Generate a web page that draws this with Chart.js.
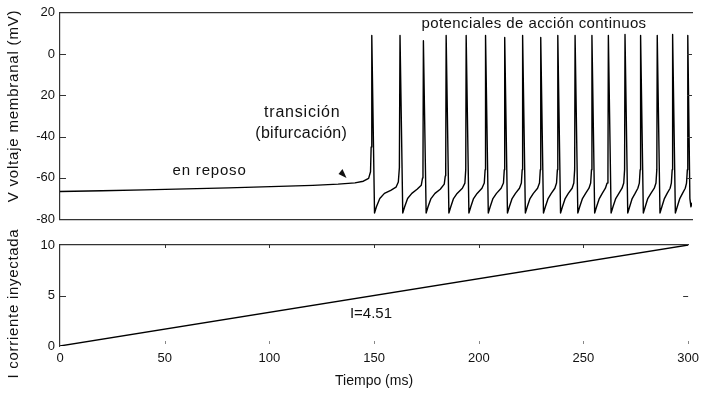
<!DOCTYPE html>
<html>
<head>
<meta charset="utf-8">
<script src="https://cdn.jsdelivr.net/npm/chart.js@4.4.1/dist/chart.umd.min.js"></script>
<style>
    html, body { margin: 0; padding: 0; background: #fff; }
    #wrap { position: relative; width: 704px; height: 397px; overflow: hidden; }
    canvas { position: absolute; left: 0; }
    #v-chart { top: 0; }
    #i-chart { top: 222px; }
</style>
</head>
<body>
<div id="wrap">
    <canvas id="v-chart" width="704" height="232"></canvas>
    <canvas id="i-chart" width="704" height="175"></canvas>
</div>
<script>
// --- Data ---
// membrane voltage trace: [time ms, voltage mV]
const membraneTrace = [
    [0, -66.6], [20, -66.2], [40, -65.8], [60, -65.3], [80, -64.8], [100, -64.2], [120, -63.6],
    [132, -63.0], [140, -62.4], [144, -61.6], [146.5, -60.2], [147.4, -57], [147.7, -45],
    [148.0, 9], [149.3, -77], [150.2, -74], [151.8, -70], [154.0, -67.5], [157.0, -66], [159.5, -64.5], [160.6, -62], [161.1, -55],
    [161.4, 9], [162.7, -77], [163.6, -74], [165.0, -70], [167.0, -67.5], [169.5, -65.5], [171.5, -63.5], [172.1, -60], [172.3, -54],
    [172.5, 6.5], [173.8, -77], [174.7, -74], [176.1, -70], [178.0, -67.5], [180.5, -65.5], [182.4, -63], [182.9, -59], [183.1, -53],
    [183.3, 9], [184.6, -77], [185.5, -74], [186.8, -70], [188.5, -67.5], [191.0, -65], [192.2, -62.5], [192.6, -56],
    [192.8, 9], [194.1, -77], [195.0, -74], [196.3, -70], [198.0, -67.5], [200.3, -65], [201.4, -62.5], [201.8, -56],
    [202.0, 9], [203.3, -77], [204.2, -74], [205.5, -70], [207.2, -67.5], [209.4, -65], [210.5, -62.5], [210.9, -56],
    [211.1, 8], [212.4, -77], [213.3, -74], [214.6, -70], [216.2, -67.5], [218.1, -65], [219.0, -62.5], [219.4, -56],
    [219.6, 9], [220.9, -77], [221.8, -74], [223.1, -70], [224.7, -67.5], [226.7, -65], [227.6, -62.5], [228.0, -56],
    [228.2, 8], [229.5, -77], [230.4, -74], [231.7, -70], [233.2, -67.5], [234.9, -65], [235.7, -62.5], [236.1, -56],
    [236.3, 9], [237.6, -77], [238.5, -74], [239.8, -70], [241.3, -67.5], [243.1, -65], [243.9, -62.5], [244.3, -56],
    [244.5, 9], [245.8, -77], [246.7, -74], [248.0, -70], [249.5, -67.5], [251.1, -65], [251.9, -62.5], [252.3, -56],
    [252.5, 9], [253.8, -77], [254.7, -74], [256.0, -70], [257.4, -67.5], [258.9, -65], [259.7, -62.5], [260.1, -56],
    [260.3, 9], [261.6, -77], [262.5, -74], [263.8, -70], [265.3, -67.5], [266.8, -65], [267.6, -62.5], [268.0, -56],
    [268.2, 9.5], [269.5, -77], [270.4, -74], [271.6, -70], [273.0, -67.5], [274.3, -65], [275.0, -62.5], [275.4, -56],
    [275.6, 9], [276.9, -77], [277.8, -74], [279.0, -70], [280.5, -67.5], [282.1, -65], [282.9, -62.5], [283.3, -56],
    [283.5, 9], [284.8, -77], [285.7, -74], [286.9, -70], [288.2, -67.5], [289.6, -65], [290.2, -62.5], [290.6, -56],
    [290.8, 9.5], [292.1, -77], [293.0, -74], [294.2, -70], [295.5, -67.5], [296.8, -65], [297.4, -62.5], [297.8, -56],
    [298.0, 9], [299.0, -70], [299.5, -74], [300, -72]
];

// injected current ramp
const currentTime = [0, 300];
const currentValue = [0, 10];

// axis ticks
const timeTicks = [0, 50, 100, 150, 200, 250, 300];
const voltTicks = [20, 0, -20, -40, -60, -80];
const voltTickLabels = ['20', '0', '20', '-40', '-60', '-80'];
const currentTicks = [0, 5, 10];

const FONT = "'Liberation Sans', Arial, Helvetica, sans-serif";
const INK = '#111';
const FRAME = '#333';

// --- Plugins ---
const inwardTicks = {
    id: 'inwardTicks',
    afterDraw(chart, args, opts) {
        const { ctx, chartArea: a, scales } = chart;
        ctx.save();
        ctx.strokeStyle = FRAME;
        ctx.lineWidth = 1;
        const seg = (x1, y1, x2, y2) => { ctx.beginPath(); ctx.moveTo(x1, y1); ctx.lineTo(x2, y2); ctx.stroke(); };
        (opts.left || []).forEach(v => { const y = Math.round(scales.y.getPixelForValue(v)) + 0.5; seg(a.left, y, a.left + 6, y); });
        (opts.right || []).forEach(v => { const y = Math.round(scales.y.getPixelForValue(v)) + 0.5; seg(a.right - 5, y, a.right, y); });
        (opts.top || []).forEach(t => { const x = Math.round(scales.x.getPixelForValue(t)) + 0.5; seg(x, a.top, x, a.top + 3); });
        ctx.strokeStyle = '#888';
        (opts.bottom || []).forEach(t => { const x = Math.round(scales.x.getPixelForValue(t)) + 0.5; seg(x, a.bottom - 5, x, a.bottom - 2); });
        ctx.restore();
    }
};

const notes = {
    id: 'notes',
    afterDraw(chart, args, opts) {
        const { ctx, scales } = chart;
        ctx.save();
        ctx.fillStyle = INK;
        ctx.textBaseline = 'middle';
        (opts.items || []).forEach(n => {
            ctx.font = `${n.size}px ${FONT}`;
            ctx.letterSpacing = (n.spacing || 0) + 'px';
            ctx.textAlign = 'center';
            if (n.rotate) {
                ctx.save();
                ctx.translate(n.px, n.py);
                ctx.rotate(-Math.PI / 2);
                ctx.fillText(n.text, 0, 0);
                ctx.restore();
            } else {
                ctx.fillText(n.text, scales.x.getPixelForValue(n.x), scales.y.getPixelForValue(n.y));
            }
        });
        if (opts.arrow) {
            const tx = scales.x.getPixelForValue(opts.arrow.x);
            const ty = scales.y.getPixelForValue(opts.arrow.y);
            ctx.beginPath();
            ctx.moveTo(tx, ty);
            ctx.lineTo(tx - 8, ty - 4);
            ctx.lineTo(tx - 4, ty - 9);
            ctx.closePath();
            ctx.fill();
        }
        ctx.restore();
    }
};

const fixedSize = (prop, val) => (scale) => { scale[prop] = val; };
const hiddenAxis = (position, height, border) => ({
    type: 'linear', position, min: 0, max: 300,
    ticks: { display: false },
    grid: { display: false, drawTicks: false },
    border: { display: border, color: FRAME, width: 1.2 },
    afterFit: fixedSize('height', height)
});

// --- Voltage chart ---
new Chart(document.getElementById('v-chart'), {
    type: 'line',
    data: {
        datasets: [{
            data: membraneTrace.map(([x, y]) => ({ x, y })),
            borderColor: '#000',
            borderWidth: 1.4,
            borderJoinStyle: 'round',
            pointRadius: 0,
            tension: 0
        }]
    },
    options: {
        responsive: false,
        animation: false,
        layout: { padding: { left: 0, right: 12, top: 0, bottom: 0 } },
        plugins: {
            legend: { display: false },
            tooltip: { enabled: false },
            inwardTicks: { left: [0, -20, -40, -60], right: [0, -20, -40, -60] },
            notes: {
                items: [
                    { text: 'potenciales de acción continuos', x: 225, y: 14.6, size: 15, spacing: 0.4 },
                    { text: 'transición', x: 115, y: -28.5, size: 16, spacing: 0.8 },
                    { text: '(bifurcación)', x: 114.5, y: -38.6, size: 16, spacing: 0.3 },
                    { text: 'en reposo', x: 71, y: -56.7, size: 15, spacing: 0.8 },
                    { text: 'V voltaje membranal (mV)', px: 14, py: 106, size: 15, spacing: 0.8, rotate: true }
                ],
                arrow: { x: 136, y: -60 }
            }
        },
        scales: {
            x: hiddenAxis('bottom', 12, true),
            xTop: hiddenAxis('top', 10, true),
            y: {
                min: -80, max: 20,
                afterBuildTicks: (s) => { s.ticks = voltTicks.map(v => ({ value: v })); },
                ticks: {
                    padding: 5, color: INK, font: { family: FONT, size: 13 },
                    callback: (v) => voltTickLabels[voltTicks.indexOf(v)]
                },
                grid: { display: false, drawTicks: false },
                border: { display: true, color: FRAME, width: 1.2 },
                afterFit: fixedSize('width', 60)
            }
        }
    },
    plugins: [inwardTicks, notes]
});

// --- Injected current chart ---
new Chart(document.getElementById('i-chart'), {
    type: 'line',
    data: {
        datasets: [{
            data: currentTime.map((x, i) => ({ x, y: currentValue[i] })),
            borderColor: '#000',
            borderWidth: 1.3,
            pointRadius: 0,
            tension: 0
        }]
    },
    options: {
        responsive: false,
        animation: false,
        layout: { padding: { left: 0, right: 12, top: 0, bottom: 0 } },
        plugins: {
            legend: { display: false },
            tooltip: { enabled: false },
            inwardTicks: { left: [5], right: [5], top: [50, 100, 150, 200, 250], bottom: [50, 100, 150, 200, 250, 300] },
            notes: {
                items: [
                    { text: 'I=4.51', x: 148.5, y: 3.2, size: 15, spacing: 0 },
                    { text: 'I corriente inyectada', px: 14, py: 81.5, size: 15, spacing: 0.7, rotate: true }
                ]
            }
        },
        scales: {
            x: {
                type: 'linear', position: 'bottom', min: 0, max: 300,
                afterBuildTicks: (s) => { s.ticks = timeTicks.map(v => ({ value: v })); },
                ticks: { padding: 5, color: INK, font: { family: FONT, size: 13 }, maxRotation: 0 },
                grid: { display: false, drawTicks: false },
                border: { display: false },
                title: { display: true, text: 'Tiempo (ms)', color: INK, font: { family: FONT, size: 14 }, padding: { top: 0, bottom: 7 } },
                afterFit: fixedSize('height', 51)
            },
            xTop: hiddenAxis('top', 23, true),
            y: {
                min: 0, max: 10,
                afterBuildTicks: (s) => { s.ticks = currentTicks.map(v => ({ value: v })); },
                ticks: { padding: 5, color: INK, font: { family: FONT, size: 13 } },
                grid: { display: false, drawTicks: false },
                border: { display: true, color: FRAME, width: 1.2 },
                afterFit: fixedSize('width', 60)
            }
        }
    },
    plugins: [inwardTicks, notes]
});
</script>
</body>
</html>
